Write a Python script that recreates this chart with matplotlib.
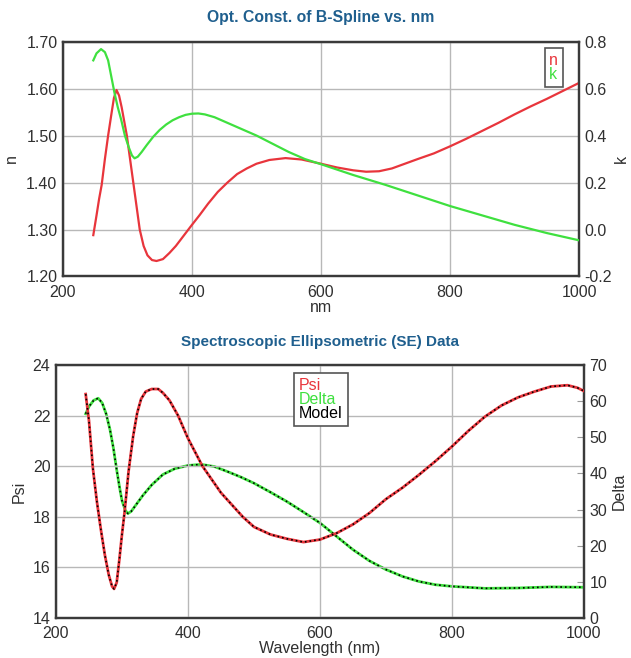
import matplotlib
matplotlib.use("Agg")
import matplotlib.pyplot as plt
from matplotlib.lines import Line2D

plt.rcParams['font.family'] = ['Liberation Sans', 'DejaVu Sans']

# ---------------- Data: optical constants ----------------
n_wl = [247, 252, 256, 260, 265, 270, 275, 279, 283, 287, 291, 295, 299, 304, 309, 314, 319,
        325, 331, 338, 345, 355, 365, 375, 385, 400, 412, 425, 440, 455, 470, 485, 500, 520,
        545, 570, 600, 625, 650, 670, 690, 710, 730, 750, 775, 800, 825, 850, 875, 900, 925,
        950, 975, 1000]
n_val = [1.288, 1.33, 1.365, 1.395, 1.45, 1.50, 1.545, 1.58, 1.597, 1.585, 1.56, 1.53, 1.50,
         1.45, 1.40, 1.35, 1.30, 1.265, 1.245, 1.235, 1.233, 1.237, 1.25, 1.265, 1.283, 1.31,
         1.331, 1.355, 1.38, 1.40, 1.418, 1.43, 1.44, 1.448, 1.452, 1.449, 1.440, 1.432, 1.426,
         1.423, 1.424, 1.430, 1.440, 1.450, 1.462, 1.477, 1.493, 1.510, 1.527, 1.545, 1.562,
         1.578, 1.595, 1.612]

k_wl = [247, 252, 259, 265, 270, 275, 280, 285, 290, 296, 302, 307, 311, 316, 322, 330, 340,
        350, 360, 370, 380, 390, 400, 410, 420, 435, 450, 475, 500, 525, 550, 575, 600, 625,
        650, 700, 750, 800, 850, 900, 950, 1000]
k_val = [0.72, 0.75, 0.768, 0.755, 0.72, 0.65, 0.58, 0.52, 0.47, 0.40, 0.35, 0.315, 0.303,
         0.31, 0.33, 0.36, 0.395, 0.424, 0.447, 0.465, 0.478, 0.488, 0.493, 0.494, 0.49, 0.478,
         0.46, 0.43, 0.40, 0.365, 0.33, 0.30, 0.278, 0.255, 0.232, 0.19, 0.145, 0.10, 0.06,
         0.02, -0.015, -0.046]

# ---------------- Data: SE data ----------------
psi_wl = [245, 250, 256, 262, 268, 274, 280, 285, 288, 292, 296, 300, 304, 310, 317, 323, 329,
          336, 345, 355, 362, 372, 385, 400, 422, 450, 483, 500, 525, 550, 575, 600, 625, 650,
          675, 700, 725, 750, 775, 800, 825, 850, 875, 900, 925, 950, 975, 990, 1000]
psi_val = [22.85, 21.8, 19.9, 18.6, 17.5, 16.5, 15.7, 15.25, 15.15, 15.4, 16.3, 17.3, 18.2,
           19.8, 21.2, 22.1, 22.66, 22.95, 23.05, 23.05, 22.9, 22.6, 22.0, 21.1, 20.0, 18.95,
           18.0, 17.6, 17.3, 17.13, 17.0, 17.1, 17.35, 17.7, 18.15, 18.7, 19.15, 19.66, 20.2,
           20.78, 21.4, 21.96, 22.4, 22.72, 22.95, 23.15, 23.2, 23.1, 22.97]

delta_wl = [245, 250, 257, 264, 270, 276, 282, 287, 292, 296, 300, 305, 309, 314, 320, 332,
            345, 362, 380, 400, 420, 440, 460, 480, 500, 525, 550, 575, 600, 625, 650, 675,
            700, 725, 750, 775, 800, 850, 900, 950, 1000]
delta_val = [56.5, 58.5, 60.2, 60.8, 59.5, 56.5, 52.0, 47.0, 41.0, 36.5, 32.5, 29.8, 28.9,
             29.5, 31.0, 34.0, 36.8, 39.7, 41.3, 42.2, 42.5, 41.9, 40.5, 39.0, 37.3, 34.8,
             32.2, 29.3, 26.3, 22.6, 18.9, 15.8, 13.4, 11.5, 10.1, 9.2, 8.75, 8.2, 8.3, 8.6, 8.5]

x_ticks = [200, 400, 600, 800, 1000]
n_ticks = [1.20, 1.30, 1.40, 1.50, 1.60, 1.70]
k_ticks = [-0.2, 0.0, 0.2, 0.4, 0.6, 0.8]
psi_ticks = [14, 16, 18, 20, 22, 24]
delta_ticks = [0, 10, 20, 30, 40, 50, 60, 70]

RED = '#e8353c'
GREEN = '#3fe03f'
TITLE = '#1f5f8e'
SPINE = '#3a3a3a'
GRID = '#b8b8b8'
TXT = '#303030'
FS = 11.5

fig = plt.figure(figsize=(6.31, 6.58), dpi=100)
fig.patch.set_facecolor('white')


def style(ax):
    for s in ax.spines.values():
        s.set_color(SPINE)
        s.set_linewidth(1.6)
    ax.tick_params(colors=TXT, labelsize=FS, length=0, pad=4)
    ax.tick_params(axis='x', pad=6)
    ax.grid(True, color=GRID, linewidth=1.0)
    ax.set_axisbelow(True)


def text_legend(ax, labels, colors, **kw):
    handles = [Line2D([], [], color=c) for c in colors]
    leg = ax.legend(handles, labels, handlelength=0, handletextpad=0, fancybox=False,
                    framealpha=1, edgecolor='#555555', fontsize=FS, borderpad=0.3,
                    labelspacing=-0.05, borderaxespad=0, **kw)
    for h in leg.legend_handles:
        h.set_visible(False)
    for t, c in zip(leg.get_texts(), colors):
        t.set_color(c)
    leg.get_frame().set_linewidth(1.2)
    return leg


# ---------------- Top chart ----------------
ax1 = fig.add_axes([0.0998, 0.5798, 0.8178, 0.357])
style(ax1)
ax1.plot(n_wl, n_val, color=RED, lw=1.6, zorder=3)
ax1.set_xlim(200, 1000)
ax1.set_ylim(1.20, 1.70)
ax1.set_xticks(x_ticks)
ax1.set_yticks(n_ticks)
ax1.set_yticklabels([f"{v:.2f}" for v in n_ticks])
ax1.set_xlabel('nm', fontsize=FS, color=TXT, labelpad=0)
ax1.set_ylabel('n', fontsize=FS, color=TXT, labelpad=5)
ax1.set_title('Opt. Const. of B-Spline vs. nm', fontsize=11.3, fontweight='bold',
              color=TITLE, pad=14)

ax1r = ax1.twinx()
ax1r.plot(k_wl, k_val, color=GREEN, lw=1.6, zorder=3)
ax1r.set_ylim(-0.2, 0.8)
ax1r.set_yticks(k_ticks)
ax1r.set_yticklabels([f"{v:.1f}" for v in k_ticks])
ax1r.tick_params(colors=TXT, labelsize=FS, length=0, pad=4)
ax1r.set_ylabel('k', fontsize=FS, color=TXT, labelpad=1)
for s in ax1r.spines.values():
    s.set_color(SPINE)
    s.set_linewidth(1.6)
text_legend(ax1r, ['n', 'k'], [RED, GREEN], loc='upper right',
            bbox_to_anchor=(0.969, 0.972))

# ---------------- Bottom chart ----------------
ax2 = fig.add_axes([0.0887, 0.0608, 0.8368, 0.3845])
style(ax2)
ax2.set_xlim(200, 1000)
ax2.set_ylim(14, 24)
ax2.set_xticks(x_ticks)
ax2.set_yticks(psi_ticks)
ax2.set_xlabel('Wavelength (nm)', fontsize=FS, color=TXT, labelpad=0)
ax2.set_ylabel('Psi', fontsize=FS, color=TXT, labelpad=4)
ax2.set_title('Spectroscopic Ellipsometric (SE) Data', fontsize=11.0, fontweight='bold',
              color=TITLE, pad=14)

ax2r = ax2.twinx()
ax2r.set_ylim(0, 70)
ax2r.set_yticks(delta_ticks)
ax2r.tick_params(colors=TXT, labelsize=FS, length=5, direction='in', pad=4)
ax2r.tick_params(axis='y', color='#999999')
ax2r.set_ylabel('Delta', fontsize=FS, color=TXT, labelpad=3)
for s in ax2r.spines.values():
    s.set_color(SPINE)
    s.set_linewidth(1.6)

ax2r.plot(delta_wl, delta_val, color=GREEN, lw=2.0, zorder=3)
ax2r.plot(delta_wl, delta_val, color='black', lw=1.2, ls=(0, (1, 1.8)), zorder=4)
ax2.set_zorder(ax2r.get_zorder() + 1)
ax2.patch.set_visible(False)
ax2.plot(psi_wl, psi_val, color=RED, lw=2.0, zorder=3)
ax2.plot(psi_wl, psi_val, color='black', lw=1.2, ls=(0, (1, 1.8)), zorder=4)

text_legend(ax2, ['Psi', 'Delta', 'Model'], [RED, GREEN, 'black'], loc='upper center',
            bbox_to_anchor=(0.502, 0.968))

fig.savefig('out.png', dpi=100, facecolor='white')
